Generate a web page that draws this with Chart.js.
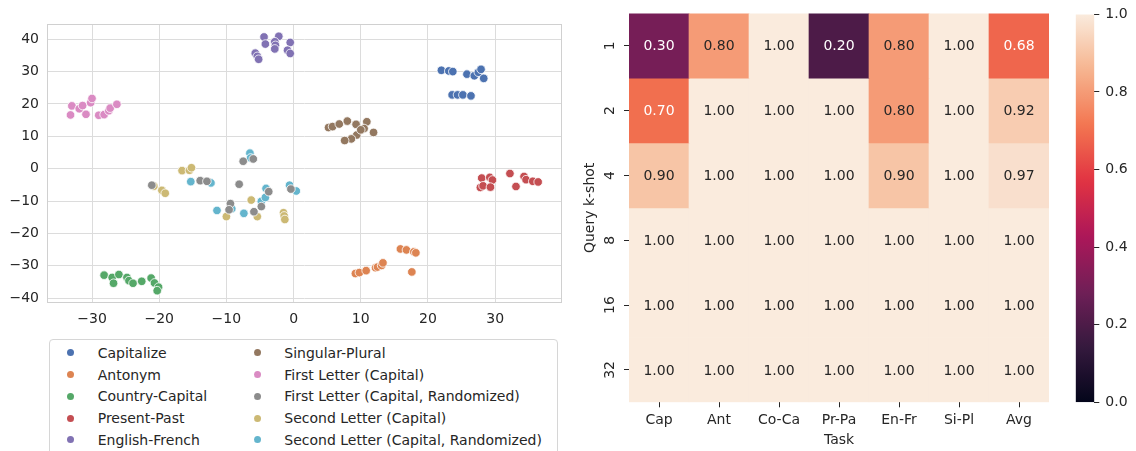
<!DOCTYPE html>
<html>
<head>
<meta charset="utf-8">
<script src="https://cdn.jsdelivr.net/npm/chart.js@4.4.1/dist/chart.umd.min.js"></script>
<style>
  html, body { margin: 0; padding: 0; background: #fff; }
  body { width: 1136px; height: 451px; overflow: hidden; position: relative; font-family: "DejaVu Sans", sans-serif; }
  canvas { position: absolute; }
  #legend { position: absolute; left: 49px; top: 339px; width: 509px; height: 130px; border: 1px solid #d6d6d6; border-radius: 4px; box-sizing: border-box; }
  .lg-item { position: absolute; height: 20px; line-height: 20px; font-size: 14px; color: #262626; white-space: nowrap; }
  .lg-dot { position: absolute; width: 7px; height: 7px; border-radius: 50%; }
</style>
</head>
<body>
<canvas id="scatter" width="580" height="338" style="left:0;top:0;width:580px;height:338px"></canvas>
<div id="legend"></div>
<canvas id="heat" width="480" height="451" style="left:580px;top:0;width:480px;height:451px"></canvas>
<canvas id="cbar" width="76" height="451" style="left:1060px;top:0;width:76px;height:451px"></canvas>
<script>
// ---------------- Scatter (t-SNE) data ----------------
const seriesNames = ['Capitalize','Antonym','Country-Capital','Present-Past','English-French',
  'Singular-Plural','First Letter (Capital)','First Letter (Capital, Randomized)',
  'Second Letter (Capital)','Second Letter (Capital, Randomized)'];
const seriesColors = ['#4C72B0','#DD8452','#55A868','#C44E52','#8172B3',
  '#937860','#DA8BC3','#8C8C8C','#CCB974','#64B5CD'];

const capitalize = [[22.0,30.4],[23.1,30.2],[23.7,30.0],[25.8,29.2],[26.9,28.7],[27.5,29.8],
  [27.9,30.7],[28.3,27.9],[23.6,22.8],[24.4,22.8],[25.2,22.8],[26.4,22.5]];
const antonym = [[15.9,-24.8],[16.8,-25.1],[17.9,-25.7],[18.2,-26.0],[17.6,-31.9],[9.2,-32.4],
  [9.8,-32.1],[10.8,-31.5],[12.2,-30.6],[12.5,-30.4],[13.1,-29.9],[13.3,-29.1]];
const countryCapital = [[-28.2,-32.9],[-27.0,-33.6],[-26.8,-35.4],[-26.0,-32.7],[-24.8,-33.6],
  [-24.5,-34.6],[-23.9,-35.4],[-22.6,-34.8],[-21.2,-33.8],[-20.7,-35.3],[-20.1,-36.6],[-20.3,-37.7]];
const presentPast = [[28.0,-2.9],[29.2,-2.7],[29.6,-3.5],[27.8,-5.8],[28.2,-5.3],[29.3,-5.7],
  [32.2,-1.5],[34.3,-2.4],[34.6,-3.4],[35.6,-3.9],[36.4,-4.1],[33.1,-5.5]];
const englishFrench = [[-4.4,40.7],[-2.2,40.9],[-4.2,38.5],[-2.8,39.2],[-2.7,38.1],[-2.8,37.0],
  [-0.5,39.0],[-0.9,36.6],[-0.5,35.6],[-5.7,35.7],[-5.4,34.7],[-5.2,33.8]];
const singularPlural = [[5.2,12.7],[5.8,13.0],[6.8,13.8],[8.0,14.7],[9.3,13.7],[10.9,14.5],
  [10.5,12.4],[9.4,10.4],[8.6,9.2],[7.6,8.7],[11.9,11.2],[10.0,12.0]];
const firstLetter = [[-33.2,16.6],[-33.0,19.4],[-31.9,18.5],[-31.4,19.5],[-30.9,16.8],[-30.2,20.4],
  [-30.0,21.7],[-29.0,16.5],[-28.2,16.7],[-27.5,17.9],[-27.3,18.7],[-26.3,19.9]];
const firstLetterRand = [[-21.1,-5.1],[-13.9,-3.7],[-12.9,-3.9],[-7.5,2.3],[-6.0,3.0],[-8.1,-4.8],
  [-9.4,-10.8],[-9.6,-12.7],[-5.9,-13.3],[-4.8,-11.7],[-3.7,-7.1],[-0.4,-6.3]];
const secondLetter = [[-16.6,-0.6],[-15.5,-0.5],[-15.2,0.3],[-20.8,-5.4],[-19.6,-6.7],[-19.1,-7.6],
  [-10.0,-14.8],[-6.3,-9.7],[-5.4,-14.8],[-1.5,-13.6],[-1.4,-14.6],[-1.3,-15.7]];
const secondLetterRand = [[-15.3,-4.0],[-12.3,-4.4],[-11.4,-12.9],[-9.2,-12.4],[-7.4,-13.8],[-6.5,4.8],
  [-6.4,3.3],[-4.8,-10.1],[-4.1,-6.1],[-4.2,-8.9],[-0.6,-5.1],[0.4,-6.9]];
const seriesPoints = [capitalize, antonym, countryCapital, presentPast, englishFrench,
  singularPlural, firstLetter, firstLetterRand, secondLetter, secondLetterRand];

// ---------------- Heatmap data ----------------
const tasks = ['Cap','Ant','Co-Ca','Pr-Pa','En-Fr','Si-Pl','Avg'];
const kShots = ['1','2','4','8','16','32'];
const acc1  = [0.30, 0.80, 1.00, 0.20, 0.80, 1.00, 0.68];
const acc2  = [0.70, 1.00, 1.00, 1.00, 0.80, 1.00, 0.92];
const acc4  = [0.90, 1.00, 1.00, 1.00, 0.90, 1.00, 0.97];
const acc8  = [1.00, 1.00, 1.00, 1.00, 1.00, 1.00, 1.00];
const acc16 = [1.00, 1.00, 1.00, 1.00, 1.00, 1.00, 1.00];
const acc32 = [1.00, 1.00, 1.00, 1.00, 1.00, 1.00, 1.00];
const accRows = [acc1, acc2, acc4, acc8, acc16, acc32];
const cbarTicks = [0, 0.2, 0.4, 0.6, 0.8, 1.0];

// ---------------- helpers ----------------
Chart.defaults.font.family = '"DejaVu Sans", sans-serif';
Chart.defaults.font.size = 14;
Chart.defaults.color = '#262626';
Chart.defaults.animation = false;

const rocketStops = [
  [0.0, [3,5,26]], [0.1429, [53,25,62]], [0.2857, [112,31,87]], [0.4286, [173,23,89]],
  [0.5714, [225,51,66]], [0.7143, [243,118,81]], [0.8571, [246,180,143]], [1.0, [250,235,221]]
];
function rocket(v) {
  for (let i = 1; i < rocketStops.length; i++) {
    const [p1, c1] = rocketStops[i];
    const [p0, c0] = rocketStops[i-1];
    if (v <= p1) {
      const t = (v - p0) / (p1 - p0);
      return c0.map((c, k) => Math.round(c + (c1[k] - c) * t));
    }
  }
  return rocketStops[rocketStops.length-1][1];
}
const rgb = c => `rgb(${c[0]},${c[1]},${c[2]})`;
function lum(c) {
  const f = x => { x /= 255; return x <= 0.03928 ? x / 12.92 : Math.pow((x + 0.055) / 1.055, 2.4); };
  return 0.2126 * f(c[0]) + 0.7152 * f(c[1]) + 0.0722 * f(c[2]);
}

// ---------------- Scatter chart ----------------
const framePlugin = {
  id: 'frame',
  beforeDatasetsDraw(chart) {
    const {ctx, chartArea: a} = chart;
    ctx.save();
    ctx.strokeStyle = '#d0d0d0';
    ctx.lineWidth = 1;
    ctx.strokeRect(Math.round(a.left) + 0.5, Math.round(a.top) + 0.5,
      Math.round(a.right - a.left) - 1, Math.round(a.bottom - a.top) - 1);
    ctx.restore();
  }
};

new Chart(document.getElementById('scatter'), {
  type: 'scatter',
  data: {
    datasets: seriesNames.map((name, i) => ({
      label: name,
      data: seriesPoints[i].map(p => ({x: p[0], y: p[1]})),
      backgroundColor: seriesColors[i],
      borderColor: '#ffffff',
      borderWidth: 0.8,
      pointRadius: 4.3,
      pointHoverRadius: 4.3
    }))
  },
  options: {
    responsive: false,
    devicePixelRatio: 1,
    layout: { padding: { left: 0, top: 24, right: 18, bottom: 0 } },
    plugins: { legend: { display: false }, tooltip: { enabled: false } },
    events: [],
    scales: {
      x: {
        type: 'linear', min: -36.7, max: 39.95,
        border: { display: false },
        grid: { color: '#dcdcdc', lineWidth: 1, drawTicks: false },
        ticks: { stepSize: 10, includeBounds: false, padding: 8, color: '#262626',
          callback: v => (v < 0 ? '\u2212' + Math.abs(v) : String(v)) },
        afterFit: s => { s.height = 35; }
      },
      y: {
        type: 'linear', min: -41.5, max: 44.7,
        border: { display: false },
        grid: { color: '#dcdcdc', lineWidth: 1, drawTicks: false },
        ticks: { stepSize: 10, includeBounds: false, padding: 8, color: '#262626',
          callback: v => (v < 0 ? '\u2212' + Math.abs(v) : String(v)) },
        afterFit: s => { s.width = 47; }
      }
    }
  },
  plugins: [framePlugin]
});

// ---------------- HTML legend (two columns, column-major) ----------------
(function buildLegend() {
  const lg = document.getElementById('legend');
  const colDot = [20.3, 207], colText = [47.7, 234.3];
  const row0 = 12.7, rowStep = 21.8;
  seriesNames.forEach((name, i) => {
    const col = Math.floor(i / 5), row = i % 5;
    const cy = row0 + row * rowStep;
    const dot = document.createElement('div');
    dot.className = 'lg-dot';
    dot.style.background = seriesColors[i];
    dot.style.left = (colDot[col] - 3.5) + 'px';
    dot.style.top = (cy - 3.5) + 'px';
    lg.appendChild(dot);
    const t = document.createElement('div');
    t.className = 'lg-item';
    t.textContent = name;
    t.style.left = colText[col] + 'px';
    t.style.top = (cy - 10) + 'px';
    lg.appendChild(t);
  });
})();

// ---------------- Heatmap ----------------
const annotatePlugin = {
  id: 'annotate',
  afterDatasetsDraw(chart) {
    const ctx = chart.ctx;
    ctx.save();
    ctx.font = '14px "DejaVu Sans", sans-serif';
    ctx.textAlign = 'center';
    ctx.textBaseline = 'middle';
    chart.data.datasets.forEach((ds, i) => {
      const meta = chart.getDatasetMeta(i);
      meta.data.forEach((bar, j) => {
        const v = accRows[i][j];
        const p = bar.getProps(['x', 'y', 'base'], true);
        ctx.fillStyle = lum(rocket(v)) < 0.408 ? '#ffffff' : '#262626';
        ctx.fillText(v.toFixed(2), p.x, (p.y + p.base) / 2 + 1);
      });
    });
    ctx.restore();
  }
};

new Chart(document.getElementById('heat'), {
  type: 'bar',
  data: {
    labels: tasks,
    datasets: accRows.map((row, i) => ({
      label: kShots[i],
      data: row.map(() => [i, i + 1]),
      backgroundColor: row.map(v => rgb(rocket(v))),
      borderWidth: 0,
      grouped: false,
      barPercentage: 1,
      categoryPercentage: 1
    }))
  },
  options: {
    responsive: false,
    devicePixelRatio: 1,
    layout: { padding: { left: 0, top: 11.7, right: 11, bottom: 0 } },
    plugins: { legend: { display: false }, tooltip: { enabled: false } },
    events: [],
    scales: {
      x: {
        type: 'category',
        border: { display: false },
        grid: { offset: false, drawOnChartArea: false, drawTicks: true, tickLength: 5, tickColor: '#262626', tickWidth: 1 },
        ticks: { padding: 5, color: '#262626', maxRotation: 0, minRotation: 0 },
        title: { display: true, text: 'Task', color: '#262626', font: { size: 14 }, padding: { top: 0, bottom: 2.6 } },
        afterFit: s => { s.height = 48.7; }
      },
      y: {
        type: 'linear', min: 0, max: kShots.length, reverse: true,
        border: { display: false },
        grid: { drawOnChartArea: false, drawTicks: true, tickLength: 5, tickColor: '#262626', tickWidth: 1 },
        afterBuildTicks: s => { s.ticks = kShots.map((k, i) => ({ value: i + 0.5 })); },
        ticks: { padding: 5, color: '#262626', minRotation: 90, maxRotation: 90, crossAlign: 'center',
          callback: (v, idx) => kShots[idx] },
        title: { display: true, text: 'Query k-shot', color: '#262626', font: { size: 14 }, padding: { top: 1.6, bottom: 0 } },
        afterFit: s => { s.width = 49; }
      }
    }
  },
  plugins: [annotatePlugin]
});

// ---------------- Colorbar ----------------
new Chart(document.getElementById('cbar'), {
  type: 'bar',
  data: {
    labels: [''],
    datasets: [{
      data: [[0, 1]],
      borderWidth: 0,
      barPercentage: 1,
      categoryPercentage: 1,
      backgroundColor: (c) => {
        const a = c.chart.chartArea;
        if (!a) return '#000';
        const g = c.chart.ctx.createLinearGradient(0, a.bottom, 0, a.top);
        for (let s = 0; s <= 50; s++) {
          const v = s / 50;
          g.addColorStop(v, rgb(rocket(v)));
        }
        return g;
      }
    }]
  },
  options: {
    responsive: false,
    devicePixelRatio: 1,
    layout: { padding: { left: 15.7, top: 11.7, right: 0, bottom: 48.7 } },
    plugins: { legend: { display: false }, tooltip: { enabled: false } },
    events: [],
    scales: {
      x: { display: false },
      y: {
        position: 'right', min: 0, max: 1,
        border: { display: false },
        grid: { drawOnChartArea: false, drawTicks: true, tickLength: 5, tickColor: '#262626', tickWidth: 1 },
        afterBuildTicks: s => { s.ticks = cbarTicks.map(v => ({ value: v })); },
        ticks: { padding: 6, color: '#262626', callback: v => Number(v).toFixed(1) },
        afterFit: s => { s.width = 41.7; }
      }
    }
  }
});
</script>
</body>
</html>
